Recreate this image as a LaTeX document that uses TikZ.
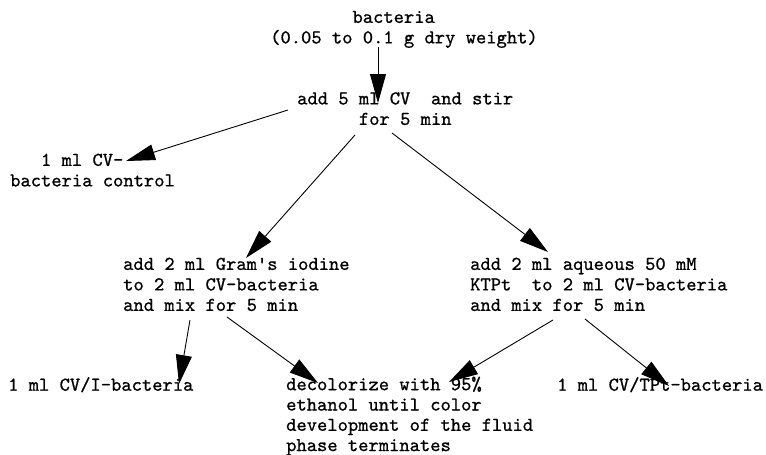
\documentclass[tikz,border=0pt]{standalone}
\usepackage{fontspec}
\newfontfamily\cour{lmmono10-regular.otf}[FakeBold=0.8]
\usetikzlibrary{arrows.meta}
\newcommand\fl{\rule{0pt}{15pt}}
\begin{document}
\begin{tikzpicture}[x=1pt,y=-1pt,
  txt/.style={anchor=north west,inner sep=0pt,align=left,
    font=\cour\fontsize{19.6}{20.5}\selectfont},
  arr/.style={-{Triangle[length=29pt,width=16pt]},line width=0.9pt}]
\useasboundingbox[fill=white] (0,0) rectangle (766,455);

\node[txt] (top)  at (270,7.7)   {\fl\hspace*{4.2em}bacteria\\(0.05 to 0.1 g dry weight)};
\node[txt] (cv)   at (297,89.2)  {\fl add 5 ml CV\ \ and stir\\\hspace*{3.15em}for 5 min};
\node[txt] (ctrl) at (10,150.7)  {\fl\hspace*{1.575em}1 ml CV-\\bacteria control};
\node[txt] (gram) at (123,254.7) {\fl add 2 ml Gram\textquotesingle s iodine\\to 2 ml CV-bacteria\\and mix for 5 min};
\node[txt] (ktpt) at (470,254.7) {\fl add 2 ml aqueous 50 mM\\KTPt\ \ to 2 ml CV-bacteria\\and mix for 5 min};
\node[txt] (cvi)  at (8,375.5)   {\fl 1 ml CV/I-bacteria};
\node[txt,font=\cour\fontsize{19.6}{20.3}\selectfont] (dec) at (286,375.0) {\fl decolorize with 95\%\\ethanol until color\\development of the fluid\\phase terminates};
\node[txt] (cvt)  at (557,375.5) {\fl 1 ml CV/TPt-bacteria};

\coordinate (a1) at (378,47);  \coordinate (b1) at (378,103);
\coordinate (a2) at (288,110); \coordinate (b2) at (126,161);
\coordinate (a3) at (355,135); \coordinate (b3) at (246,258);
\coordinate (a4) at (392,133); \coordinate (b4) at (548,252);
\coordinate (a5) at (190,320); \coordinate (b5) at (179,384);
\coordinate (a6) at (227,317); \coordinate (b6) at (318,383);
\coordinate (a7) at (553,320); \coordinate (b7) at (449,382);
\coordinate (a8) at (585,319); \coordinate (b8) at (669,386);

\draw[arr] (a1) -- (b1);
\draw[arr] (a2) -- (b2);
\draw[arr] (a3) -- (b3);
\draw[arr] (a4) -- (b4);
\draw[arr] (a5) -- (b5);
\draw[arr] (a6) -- (b6);
\draw[arr] (a7) -- (b7);
\draw[arr] (a8) -- (b8);
\end{tikzpicture}
\end{document}
